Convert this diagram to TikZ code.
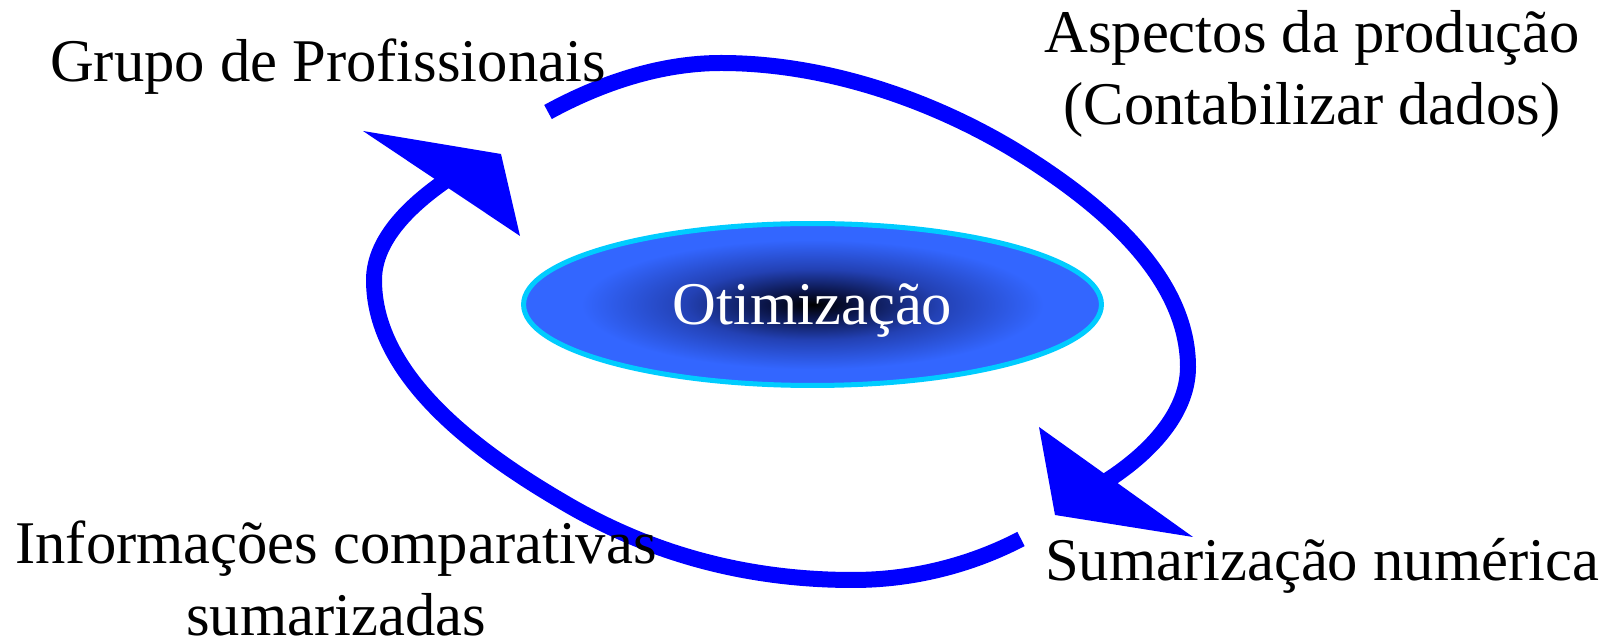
\documentclass[tikz,border=0pt]{standalone}
\usepackage{fontspec}
\setmainfont{Liberation Serif}
\usetikzlibrary{shapes.geometric}

\definecolor{arcblue}{RGB}{0,0,255}
\definecolor{otimfill}{RGB}{51,102,255}
\definecolor{otimline}{RGB}{0,204,255}
\definecolor{otimdark}{RGB}{10,20,70}
\definecolor{otimmid}{RGB}{35,65,180}
\pgfdeclareradialshading{otimshade}{\pgfpoint{0bp}{0bp}}{color(0bp)=(black); color(4bp)=(otimdark); color(11bp)=(otimmid); color(20bp)=(otimfill); color(50bp)=(otimfill)}

\tikzset{
	caption text/.style={font=\fontsize{34.5}{41}\selectfont, align=center, anchor=base, inner sep=0pt},
	loop arc/.style={draw=arcblue, line width=0.32cm},
	loop head/.style={fill=arcblue, draw=none},
	otim/.style={ellipse, draw=otimline, line width=0.1cm, shade, shading=otimshade,
		minimum width=11.56cm, minimum height=3.24cm, text=white,
		font=\fontsize{34.5}{41}\selectfont, text depth=0pt}
}

\begin{document}
\begin{tikzpicture}[x=0.02cm, y=-0.02cm]
		%%%%% START %%%%%
		\useasboundingbox (0,0) rectangle (1614,644);
		
		\node[otim] (otim) at (812.5,304.5) {Otimização};
		
		\coordinate (grupo-out) at (548,112);
		\coordinate (sumnum-in) at (1100,485);
		\coordinate (sumnum-out) at (1021,539);
		\coordinate (grupo-in) at (448,179);
		
		% upper loop
		\draw[loop arc] (grupo-out) .. controls (601,83) and (661,63) .. (721,63)
			.. controls (821,63) and (925,97) .. (1011,148)
			.. controls (1092,197) and (1188,272) .. (1188,367)
			.. controls (1188,417) and (1143,459) .. (sumnum-in);
		\fill[loop head] (1039,427) -- (1055,515) -- (1193,537) -- cycle;
		
		% lower loop
		\draw[loop arc] (sumnum-out) .. controls (969,566) and (911,580) .. (853,580)
			.. controls (745,580) and (649,553) .. (563,502)
			.. controls (479,453) and (374,377) .. (374,280)
			.. controls (374,238) and (413,203) .. (grupo-in);
		\fill[loop head] (363,131) -- (501,154) -- (520,236) -- cycle;
		
		\node[caption text] (grupo) at (328,82) {Grupo de Profissionais};
		\node[caption text] (aspectos) at (1312,125) {Aspectos da produção\\(Contabilizar dados)};
		\node[caption text] (sumnum) at (1322,581) {Sumarização numérica};
		\node[caption text] (infocomp) at (336,636) {Informações comparativas\\sumarizadas};
		%%%%% END %%%%%
\end{tikzpicture}
\end{document}
